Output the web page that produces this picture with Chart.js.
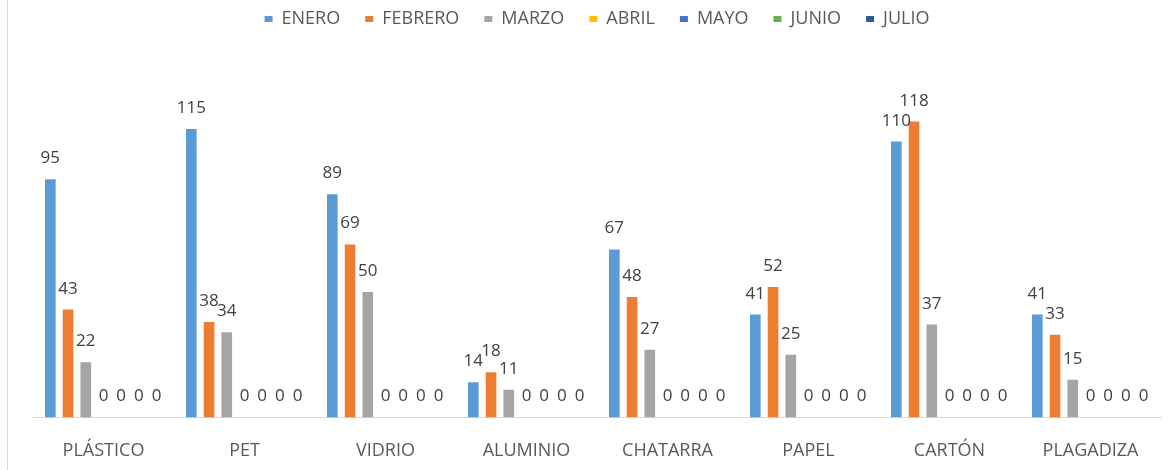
<!DOCTYPE html>
<html>
<head>
<meta charset="utf-8">
<script src="https://cdn.jsdelivr.net/npm/chart.js"></script>
<style>
  html, body { margin: 0; padding: 0; background: #fff; }
  #wrap { width: 1171px; height: 470px; position: relative; }
</style>
</head>
<body>
<div id="wrap"><canvas id="chart"></canvas></div>
<script>
// datos
const categorias = ['PLÁSTICO', 'PET', 'VIDRIO', 'ALUMINIO', 'CHATARRA', 'PAPEL', 'CARTÓN', 'PLAGADIZA'];
const enero   = [95, 115, 89, 14, 67, 41, 110, 41];
const febrero = [43, 38, 69, 18, 48, 52, 118, 33];
const marzo   = [22, 34, 50, 11, 27, 25, 37, 15];
const abril   = [0, 0, 0, 0, 0, 0, 0, 0];
const mayo    = [0, 0, 0, 0, 0, 0, 0, 0];
const junio   = [0, 0, 0, 0, 0, 0, 0, 0];
const julio   = [0, 0, 0, 0, 0, 0, 0, 0];

const meses = ['ENERO', 'FEBRERO', 'MARZO', 'ABRIL', 'MAYO', 'JUNIO', 'JULIO'];
const valores = [enero, febrero, marzo, abril, mayo, junio, julio];
const colores = ['#5B9BD5', '#ED7D31', '#A5A5A5', '#FFC000', '#4472C4', '#70AD47', '#255E91'];

const FONT = '"Open Sans", "DejaVu Sans", sans-serif';

// etiquetas de valor encima de cada barra
const etiquetas = {
  id: 'etiquetas',
  afterDatasetsDraw(chart) {
    const ctx = chart.ctx;
    ctx.save();
    ctx.font = '17px ' + FONT;
    ctx.fillStyle = '#404040';
    ctx.textAlign = 'center';
    ctx.textBaseline = 'alphabetic';
    chart.data.datasets.forEach((ds, i) => {
      const meta = chart.getDatasetMeta(i);
      meta.data.forEach((bar, j) => {
        ctx.fillText(String(ds.data[j]), bar.x, bar.y - 16);
      });
    });
    ctx.restore();
  }
};

// linea del borde izquierdo
const borde = {
  id: 'borde',
  beforeDraw(chart) {
    const ctx = chart.ctx;
    ctx.save();
    ctx.strokeStyle = '#d9d9d9';
    ctx.lineWidth = 1;
    ctx.beginPath();
    ctx.moveTo(7.5, 0);
    ctx.lineTo(7.5, chart.height);
    ctx.stroke();
    ctx.restore();
  }
};

new Chart(document.getElementById('chart'), {
  type: 'bar',
  data: {
    labels: categorias,
    datasets: meses.map((m, i) => ({
      label: m,
      data: valores[i],
      backgroundColor: colores[i],
      borderWidth: 0,
      categoryPercentage: 0.88,
      barPercentage: 0.6
    }))
  },
  options: {
    responsive: true,
    maintainAspectRatio: false,
    animation: false,
    layout: { padding: { left: 33, right: 10, top: -15, bottom: -7 } },
    plugins: {
      legend: {
        position: 'top',
        labels: {
          boxWidth: 8,
          boxHeight: 6,
          padding: 25,
          color: '#595959',
          font: { family: FONT, size: 18 }
        }
      },
      tooltip: { enabled: false }
    },
    scales: {
      x: {
        grid: { display: false },
        border: { display: true, color: '#d9d9d9', width: 1 },
        ticks: { color: '#595959', padding: 15, font: { family: FONT, size: 18 } }
      },
      y: {
        display: false,
        min: 0,
        max: 151.3
      }
    }
  },
  plugins: [etiquetas, borde]
});
</script>
</body>
</html>
